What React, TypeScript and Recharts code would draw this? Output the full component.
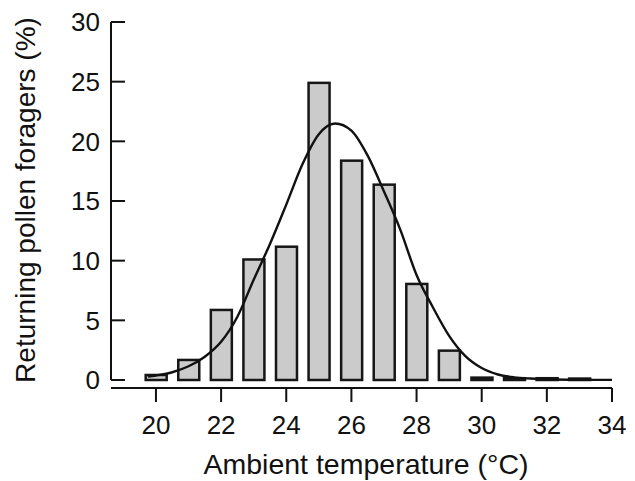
import React from 'react';
import { ComposedChart, Bar, Line, XAxis, YAxis, ReferenceLine, Label } from 'recharts';

// temperature classes (°C) and share of returning pollen foragers (%)
const temps = [20, 21, 22, 23, 24, 25, 26, 27, 28, 29, 30, 31, 32, 33];
const foragers = [0.42, 1.68, 5.87, 10.1, 11.17, 24.9, 18.38, 16.37, 8.05, 2.46, 0.2, 0.15, 0.15, 0.12];

// fitted curve
const curveT = [19.75, 20, 20.5, 21, 21.5, 22, 22.5, 23, 23.5, 24, 24.5, 25, 25.5, 26, 26.5, 27, 27.5, 28, 28.5, 29, 29.5, 30, 30.5, 31, 31.5, 32, 33, 34];
const curveV = [0.28, 0.38, 0.65, 1.15, 1.95, 3.2, 5.3, 8.4, 11.4, 14.7, 18.1, 20.6, 21.5, 20.9, 18.8, 15.8, 12.6, 8.8, 6.1, 3.7, 2.0, 1.0, 0.46, 0.22, 0.12, 0.06, 0.02, 0.01];

const xTicks = [20, 22, 24, 26, 28, 30, 32, 34];
const yTicks = [0, 5, 10, 15, 20, 25, 30];

const bars = temps.map((t, i) => ({ t, pct: foragers[i] }));
const curve = curveT.map((t, i) => ({ t, v: curveV[i] }));

const FONT = '"Liberation Sans", Arial, Helvetica, sans-serif';
const INK = '#111';
const BAR_W = 21;

const YTick = ({ x, y, payload }: any) => (
    <g>
        <line x1={x} y1={y} x2={x + 14} y2={y} stroke={INK} strokeWidth={2} />
        <text x={x - 11} y={y} dy="0.36em" textAnchor="end" fontSize={26} fontFamily={FONT} fill={INK}>
            {payload.value}
        </text>
    </g>
);

const XTick = ({ x, y, payload }: any) => (
    <g>
        <line x1={x} y1={y + 8} x2={x} y2={y + 22} stroke={INK} strokeWidth={2} />
        <text x={x} y={y + 54} textAnchor="middle" fontSize={26} fontFamily={FONT} fill={INK}>
            {payload.value}
        </text>
    </g>
);

// the band between points is narrow because of the curve's x values, so widen each bar around its centre
const WideBar = ({ x, y, width, height }: any) => {
    const cx = x + width / 2;
    return <rect x={cx - BAR_W / 2} y={y} width={BAR_W} height={height} fill="#cbcbcb" stroke="#161616" strokeWidth={2.5} />;
};

export default function App() {
    return (
        <div style={{ position: 'absolute', left: 0, top: 0, background: '#fff' }}>
            <ComposedChart width={635} height={481} data={bars} margin={{ top: 22, right: 23, bottom: 0, left: 0 }}>
                <XAxis
                    dataKey="t"
                    type="number"
                    domain={[18.62, 34]}
                    allowDataOverflow
                    ticks={xTicks}
                    height={101}
                    axisLine={false}
                    tickLine={false}
                    tickSize={0}
                    tickMargin={0}
                    tick={<XTick />}
                    interval={0}
                >
                    <Label
                        content={() => (
                            <text x={366} y={474} textAnchor="middle" fontSize={28.5} fontFamily={FONT} fill={INK}>
                                Ambient temperature (°C)
                            </text>
                        )}
                    />
                </XAxis>
                <YAxis
                    type="number"
                    domain={[0, 30]}
                    ticks={yTicks}
                    width={111}
                    axisLine={{ stroke: INK, strokeWidth: 2 }}
                    tickLine={false}
                    tickSize={0}
                    tickMargin={0}
                    tick={<YTick />}
                    interval={0}
                >
                    <Label
                        content={() => (
                            <text x={35} y={200} transform="rotate(-90 35 200)" textAnchor="middle" fontSize={28} fontFamily={FONT} fill={INK}>
                                Returning pollen foragers (%)
                            </text>
                        )}
                    />
                </YAxis>
                <ReferenceLine y={-0.67} ifOverflow="visible" stroke={INK} strokeWidth={2} />
                <Bar dataKey="pct" shape={<WideBar />} isAnimationActive={false} />
                <Line data={curve} dataKey="v" type="monotone" stroke={INK} strokeWidth={2.4} dot={false} activeDot={false} isAnimationActive={false} />
            </ComposedChart>
        </div>
    );
}
